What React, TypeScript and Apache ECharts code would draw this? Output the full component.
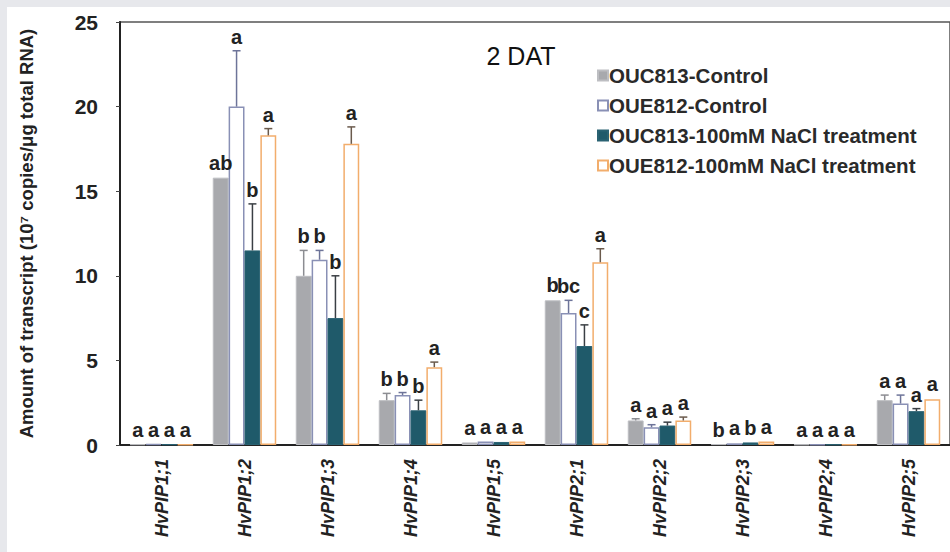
import React, { useEffect, useRef } from "react";
import * as echarts from "echarts";

const categories = ["HvPIP1;1", "HvPIP1;2", "HvPIP1;3", "HvPIP1;4", "HvPIP1;5", "HvPIP2;1", "HvPIP2;2", "HvPIP2;3", "HvPIP2;4", "HvPIP2;5"];
const seriesNames = ["OUC813-Control", "OUE812-Control", "OUC813-100mM NaCl treatment", "OUE812-100mM NaCl treatment"];

const ouc813Control = [0.04, 15.8, 10.0, 2.65, 0.15, 8.55, 1.45, 0.05, 0.03, 2.65];
const oue812Control = [0.05, 20.0, 10.95, 2.95, 0.2, 7.8, 1.05, 0.1, 0.03, 2.45];
const ouc813NaCl = [0.04, 11.5, 7.5, 2.05, 0.18, 5.85, 1.15, 0.15, 0.03, 2.0];
const oue812NaCl = [0.02, 18.3, 17.8, 4.6, 0.2, 10.8, 1.45, 0.2, 0.03, 2.7];

const ouc813ControlErr = [0.02, 0.05, 1.5, 0.4, 0.03, 0.05, 0.1, 0.02, 0.01, 0.3];
const oue812ControlErr = [0.02, 3.3, 0.55, 0.15, 0.05, 0.75, 0.15, 0.05, 0.01, 0.5];
const ouc813NaClErr = [0.01, 2.75, 2.5, 0.6, 0.05, 1.25, 0.2, 0.05, 0.01, 0.15];
const oue812NaClErr = [0.01, 0.4, 1.0, 0.3, 0.03, 0.8, 0.2, 0.03, 0.01, 0.05];

const ouc813ControlLetters = ["a", "ab", "b", "b", "a", "b", "a", "b", "a", "a"];
const oue812ControlLetters = ["a", "a", "b", "b", "a", "bc", "a", "a", "a", "a"];
const ouc813NaClLetters = ["a", "b", "b", "b", "a", "c", "a", "b", "a", "a"];
const oue812NaClLetters = ["a", "a", "a", "a", "a", "a", "a", "a", "a", "a"];

const yTicks = [0, 5, 10, 15, 20, 25];

const FONT = "'Liberation Sans', Arial, sans-serif";
const CAT_GAP = 0.235;

export default function App() {
  const ref = useRef<HTMLDivElement>(null);
  useEffect(() => {
    document.body.style.margin = "0";
    document.documentElement.style.overflow = "hidden";
    document.body.style.overflow = "hidden";
    if (!ref.current) return;
    const chart = echarts.init(ref.current, null, { renderer: "svg" });

    const values = [ouc813Control, oue812Control, ouc813NaCl, oue812NaCl];
    const errs = [ouc813ControlErr, oue812ControlErr, ouc813NaClErr, oue812NaClErr];
    const letters = [ouc813ControlLetters, oue812ControlLetters, ouc813NaClLetters, oue812NaClLetters];
    const styles = [
      { color: "#a8a9ad", borderColor: "#bdbec2", borderWidth: 1 },
      { color: "#ffffff", borderColor: "#8990b5", borderWidth: 1.5 },
      { color: "#1f5a6a", borderColor: "#2a6272", borderWidth: 1 },
      { color: "#ffffff", borderColor: "#f2ad6c", borderWidth: 1.5 },
    ];
    const errColors = ["#8c8d92", "#6d7499", "#3a3f44", "#6a5a4c"];

    const errData: number[][] = [];
    const errLetters: string[] = [];
    values.forEach((arr, s) => {
      arr.forEach((v, c) => {
        errData.push([c, s, v, errs[s][c]]);
        errLetters.push(letters[s][c]);
      });
    });

    const option: any = {
      animation: false,
      backgroundColor: "#ffffff",
      textStyle: { fontFamily: FONT },
      graphic: [
        { type: "rect", shape: { x: 0, y: 0, width: 950, height: 7 }, style: { fill: "#e7e8ec" }, silent: true },
        { type: "rect", shape: { x: 0, y: 0, width: 7, height: 552 }, style: { fill: "#e7e8ec" }, silent: true },
        {
          type: "text",
          x: 521,
          y: 56,
          style: { text: "2 DAT", fontSize: 25, fontFamily: FONT, fill: "#111", align: "center", verticalAlign: "middle" },
        },
      ],
      legend: {
        data: seriesNames,
        orient: "vertical",
        left: 592,
        top: 60,
        itemWidth: 10,
        itemHeight: 10,
        itemGap: 9,
        icon: "rect",
        textStyle: { fontSize: 20.5, fontWeight: "bold", color: "#2a2a2a", fontFamily: FONT, padding: [0, 0, 0, -4] },
      },
      grid: {
        left: 120,
        top: 22,
        width: 837,
        height: 423,
        show: true,
        borderColor: "#555",
        borderWidth: 1.5,
        backgroundColor: "transparent",
      },
      xAxis: {
        type: "category",
        data: categories,
        axisLine: { lineStyle: { color: "#222", width: 2 } },
        axisTick: { show: false },
        axisLabel: {
          rotate: 90,
          margin: 14,
          fontSize: 18,
          fontStyle: "italic",
          fontWeight: "bold",
          color: "#222",
          fontFamily: FONT,
        },
      },
      yAxis: {
        type: "value",
        min: yTicks[0],
        max: yTicks[yTicks.length - 1],
        interval: 5,
        splitLine: { show: false },
        axisLine: { show: true, lineStyle: { color: "#222", width: 2 } },
        axisTick: { show: true, length: 4, lineStyle: { color: "#444" } },
        axisLabel: { fontSize: 21, fontWeight: "bold", color: "#222", margin: 22, fontFamily: FONT },
        name: "Amount of transcript (10⁷ copies/μg total RNA)",
        nameLocation: "middle",
        nameGap: 84,
        nameTextStyle: { fontSize: 18.5, fontWeight: "bold", color: "#222", fontFamily: FONT },
      },
      series: [
        ...values.map((arr, s) => ({
          type: "bar",
          name: seriesNames[s],
          data: arr,
          barGap: "0%",
          barCategoryGap: CAT_GAP * 100 + "%",
          itemStyle: styles[s],
        })),
        {
          type: "custom",
          data: errData,
          encode: { x: 0, y: 2 },
          z: 5,
          renderItem: (params: any, api: any) => {
            const cat = api.value(0);
            const s = api.value(1);
            const v = api.value(2);
            const e = api.value(3);
            const base = api.coord([cat, 0]);
            const band = api.size([1, 0])[0];
            const bw = (band * (1 - CAT_GAP)) / 4;
            const x = base[0] + (s - 1.5) * bw;
            const yTop = api.coord([cat, v])[1];
            const yErr = api.coord([cat, v + e])[1];
            const col = errColors[s];
            const children: any[] = [];
            if (yTop - yErr > 1.5) {
              children.push({ type: "line", shape: { x1: x, y1: yTop, x2: x, y2: yErr }, style: { stroke: col, lineWidth: 1.5 } });
              children.push({ type: "line", shape: { x1: x - 4, y1: yErr, x2: x + 4, y2: yErr }, style: { stroke: col, lineWidth: 1.5 } });
            }
            children.push({
              type: "text",
              style: {
                text: errLetters[params.dataIndex],
                x,
                y: Math.min(yErr, yTop) - 4,
                align: "center",
                verticalAlign: "bottom",
                fontSize: 20,
                fontWeight: "bold",
                fontFamily: FONT,
                fill: "#222",
              },
            });
            return { type: "group", children };
          },
        },
      ],
    };
    chart.setOption(option);
    return () => chart.dispose();
  }, []);
  return <div ref={ref} style={{ width: 950, height: 552 }} />;
}
